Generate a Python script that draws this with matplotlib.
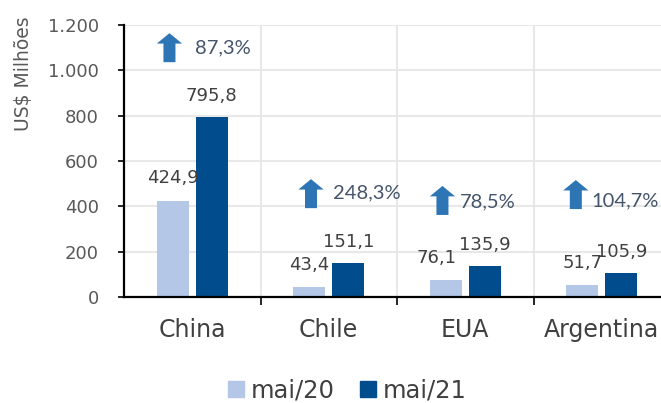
import numpy as np
import matplotlib
matplotlib.use("Agg")
import matplotlib.pyplot as plt
from matplotlib.lines import Line2D
from matplotlib.patches import FancyArrow

categories = ["China", "Chile", "EUA", "Argentina"]
mai20 = [424.9, 43.4, 76.1, 51.7]
mai21 = [795.8, 151.1, 135.9, 105.9]
mai20_labels = ["424,9", "43,4", "76,1", "51,7"]
mai21_labels = ["795,8", "151,1", "135,9", "105,9"]
growth_labels = ["87,3%", "248,3%", "78,5%", "104,7%"]
yticks = [0, 200, 400, 600, 800, 1000, 1200]
ytick_labels = ["0", "200", "400", "600", "800", "1.000", "1.200"]

# annotation placement (data coords): arrow centre x, arrow bottom y, text x, text y
arrow_x = [-0.167, 0.87, 1.833, 2.81]
arrow_y0 = [1036, 392, 362, 388]
text_x = [0.02, 1.031, 1.962, 2.922]
text_y = [1098, 458, 419, 423]

c_light = "#B4C7E7"
c_dark = "#004C8C"
gray = "#404040"

fig = plt.figure(figsize=(6.61, 4.03), dpi=100)
ax = fig.add_axes([124 / 661, 106 / 403, 546 / 661, 272 / 403])

x = np.arange(len(categories))
off = 0.143
w = 0.235
ax.bar(x - off, mai20, w, color=c_light, zorder=3)
ax.bar(x + off, mai21, w, color=c_dark, zorder=3)

ax.set_xlim(-0.5, 3.5)
ax.set_ylim(0, 1200)
ax.set_yticks(yticks)
ax.set_yticklabels(ytick_labels, fontsize=13, color="#595959", family="DejaVu Sans")
ax.set_xticks(x)
ax.set_xticklabels(categories, fontsize=17, color=gray, family="DejaVu Sans")
ax.set_xticks(np.arange(0.5, 3.5, 1.0), minor=True)
ax.tick_params(axis="x", which="major", length=0, pad=15)
ax.tick_params(axis="x", which="minor", length=6, width=1.2, color="black")
ax.tick_params(axis="y", length=4, width=1.2, pad=14, color="black")

ax.grid(axis="y", color="#E8E8E8", linewidth=1.5, zorder=0)
for xv in np.arange(0.5, 3.6, 1.0):
    ax.axvline(xv, color="#E8E8E8", linewidth=1.5, zorder=0)

for s in ["top", "right"]:
    ax.spines[s].set_visible(False)
ax.spines["left"].set_linewidth(1.6)
ax.spines["bottom"].set_linewidth(1.6)
ax.spines["left"].set_zorder(4)
ax.spines["bottom"].set_zorder(4)

lab_dx20 = [0, 0, -7, 0]
for i in range(len(categories)):
    ax.annotate(mai20_labels[i], (x[i] - off, mai20[i]), xytext=(lab_dx20[i], 16),
                textcoords="offset points", ha="center", va="center",
                fontsize=13, color=gray, family="DejaVu Sans", zorder=5)
    ax.annotate(mai21_labels[i], (x[i] + off, mai21[i]), xytext=(0, 15),
                textcoords="offset points", ha="center", va="center",
                fontsize=13, color=gray, family="DejaVu Sans", zorder=5)

for i in range(len(categories)):
    arr = FancyArrow(arrow_x[i], arrow_y0[i], 0, 128, width=0.088, head_width=0.185,
                     head_length=46, length_includes_head=True,
                     color="#2E75B6", linewidth=0, zorder=5)
    ax.add_patch(arr)
    ax.text(text_x[i], text_y[i], growth_labels[i], ha="left", va="center",
            fontsize=14.5, color="#44546A", family="Lato", zorder=5, clip_on=False)

fig.text(24 / 661, 1 - 74 / 403, "US$ Milhões", rotation=90, ha="center", va="center",
         fontsize=13.5, color="#595959", family="DejaVu Sans")

handles = [Line2D([], [], marker="s", linestyle="none", markersize=11.5,
                  markerfacecolor=c_light, markeredgecolor=c_light),
           Line2D([], [], marker="s", linestyle="none", markersize=11.5,
                  markerfacecolor=c_dark, markeredgecolor=c_dark)]
fig.legend(handles, ["mai/20", "mai/21"], loc="center", bbox_to_anchor=(347 / 661, 1 - 391 / 403),
           ncol=2, frameon=False, prop={"family": "DejaVu Sans", "size": 17.5},
           labelcolor=gray, handlelength=0.7, handletextpad=0.25, columnspacing=1.0,
           borderpad=0, borderaxespad=0)

fig.savefig("out.png", dpi=100)
